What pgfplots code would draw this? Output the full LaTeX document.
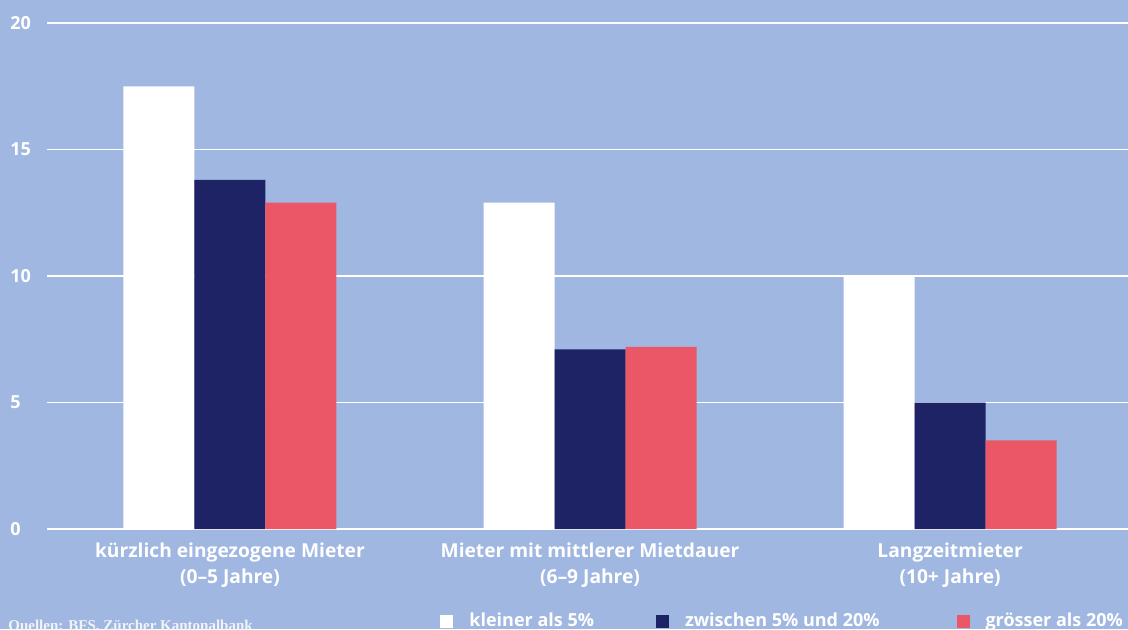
\documentclass[border=0pt]{standalone}
\usepackage{fontspec}
\setmainfont{Open Sans}
\newfontfamily\srcfont{Liberation Serif}
\usepackage{pgfplots}
\pgfplotsset{compat=1.18}

\definecolor{bgblue}{HTML}{A0B7E1}
\definecolor{navy}{HTML}{1E2366}
\definecolor{coral}{HTML}{EB5766}

\begin{document}
\begin{tikzpicture}
\useasboundingbox (0,0) rectangle (564pt,314.5pt);
\clip (0,0) rectangle (564pt,314.5pt);
\fill[bgblue] (0,0) rectangle (564pt,314.5pt);

\begin{axis}[
  at={(23.5pt,50pt)}, anchor=south west,
  scale only axis,
  width=540.5pt, height=253pt,
  xmin=-0.508, xmax=2.494,
  ymin=0, ymax=20,
  ytick={0,5,...,20},
  xtick={0,1,2},
  xticklabels={{kürzlich eingezogene Mieter\\(0–5 Jahre)},
               {Mieter mit mittlerer Mietdauer\\(6–9 Jahre)},
               {Langzeitmieter\\(10+ Jahre)}},
  axis x line=bottom, axis y line=left,
  axis line style={-},
  x axis line style={white, line width=1pt},
  y axis line style={draw=none},
  major tick length=0pt,
  ymajorgrids,
  grid style={white, line width=0.6pt},
  /pgf/number format/assume math mode=true,
  yticklabel style={font=\bfseries\fontsize{9}{11}\selectfont, text=white,
    anchor=west, inner sep=0pt, xshift=-18.5pt},
  xticklabel style={font=\bfseries\fontsize{9.6}{13}\selectfont, text=white,
    align=center, yshift=-3.5pt},
  ybar=0pt, bar width=35.5pt,
  legend columns=3,
  legend style={at={(axis description cs:0.3636,-0.182)}, anchor=west,
    draw=none, fill=none, inner sep=0pt,
    font=\bfseries\fontsize{9}{11}\selectfont, text=white,
    nodes={inner sep=0pt},
    /tikz/every odd column/.append style={column sep=8pt},
    /tikz/column 2/.append style={column sep=31pt},
    /tikz/column 4/.append style={column sep=38.5pt}},
  legend image code/.code={\fill[#1] (0pt,-3.25pt) rectangle (6.5pt,3.25pt);},
]
% kleiner als 5%
\addplot[fill=white, draw=none] coordinates {(0,17.5) (1,12.9) (2,10.0)};
\addlegendentry{kleiner als 5\%}
% zwischen 5% und 20%
\addplot[fill=navy, draw=none] coordinates {(0,13.8) (1,7.1) (2,5.0)};
\addlegendentry{zwischen 5\% und 20\%}
% groesser als 20%
\addplot[fill=coral, draw=none] coordinates {(0,12.9) (1,7.2) (2,3.5)};
\addlegendentry{grösser als 20\%}
\end{axis}

\node[anchor=base west, inner sep=0pt, text=white!85!bgblue,
  font=\srcfont\bfseries\fontsize{7.5}{9}\selectfont] at (4pt,-0.5pt)
  {Quellen: BFS, Zürcher Kantonalbank};
\end{tikzpicture}
\end{document}
